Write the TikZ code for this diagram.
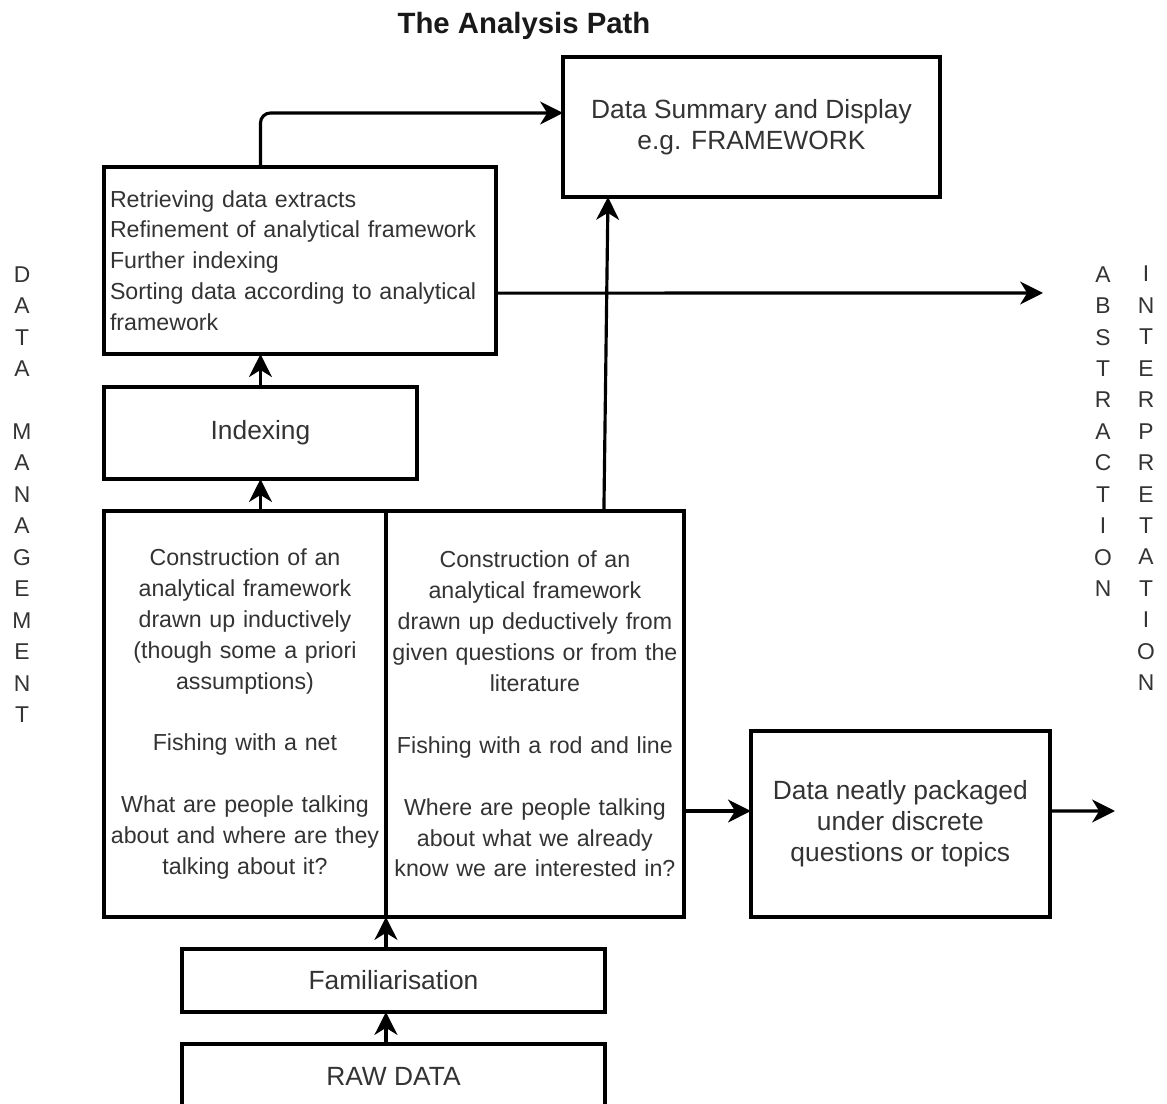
\documentclass[tikz,border=0pt]{standalone}
\usepackage{fontspec}
\setmainfont{Liberation Sans}
\usetikzlibrary{arrows.meta,positioning,calc}

\begin{document}
\begin{tikzpicture}[
  x=0.02cm,y=-0.02cm,
  >=Stealth,
  box/.style={rectangle,draw=black,line width=2.2pt,outer sep=0pt,inner sep=0pt,
    text=black!80,font=\fontsize{15}{17.6}\selectfont,align=center},
  smalltext/.style={font=\fontsize{13.2}{17.6}\selectfont},
  listbox/.style={box,smalltext,align=left,inner xsep=0.12cm,text width=7.6cm,
    minimum width=7.84cm,minimum height=3.74cm},
  colbox/.style={box,smalltext,minimum height=8.12cm},
  sidelbl/.style={text=black!80,font=\fontsize{13}{17.9}\selectfont,
    align=center,inner sep=0pt},
  titlelbl/.style={font=\fontsize{16.7}{20}\selectfont\bfseries,text=black!90},
  arrow/.style={->,line width=1.8pt,
    >={Stealth[length=13pt,width=13pt,inset=4pt]}}
]
\clip (0,0) rectangle (1167,1104);

% ── Title ────────────────────────────────────────────────────────────────────
\node[titlelbl] (title) at (524,26) {The Analysis Path};

% ── Main column, from the bottom up ─────────────────────────────────────────
\node[box,anchor=north west,minimum width=8.46cm,minimum height=1.28cm]
  (raw) at (182,1044) {RAW DATA};
\node[box,above right=0.64cm and 0cm of raw.north west,
  minimum width=8.46cm,minimum height=1.26cm]
  (famil) {Familiarisation};
% two frameworks side by side
\node[colbox,anchor=south west,minimum width=5.64cm,text width=5.5cm]
  (inductive) at (104,917)
  {Construction of an\\analytical framework\\drawn up inductively\\
   (though some a priori\\assumptions)\\[17.6pt]
   Fishing with a net\\[17.6pt]
   What are people talking\\about and where are they\\talking about it?};
\node[colbox,right=0cm of inductive,minimum width=5.96cm,text width=5.86cm]
  (deductive)
  {Construction of an\\analytical framework\\drawn up deductively from\\
   given questions or from the\\literature\\[17.6pt]
   Fishing with a rod and line\\[17.6pt]
   Where are people talking\\about what we already\\know we are interested in?};
\node[box,above right=0.64cm and 0cm of inductive.north west,
  minimum width=6.26cm,minimum height=1.84cm]
  (indexing) {Indexing};
\node[listbox,above right=0.66cm and 0cm of indexing.north west]
  (retrieve) {Retrieving data extracts\\Refinement of analytical framework\\
   Further indexing\\Sorting data according to analytical\\framework};

% ── Outputs ──────────────────────────────────────────────────────────────────
\node[box,anchor=north west,minimum width=7.54cm,minimum height=2.8cm]
  (summary) at (563,57) {Data Summary and Display\\e.g. FRAMEWORK};
\node[box,above right=0cm and 1.34cm of deductive.south east,
  minimum width=5.98cm,minimum height=3.72cm]
  (packaged) {Data neatly packaged\\under discrete\\questions or topics};

% free arrow ends
\coordinate (absEnd) at (1043,293);
\coordinate (pkgEnd) at (1115,811);

% ── Side labels ──────────────────────────────────────────────────────────────
\node[sidelbl] (datamgmt) at (22,494.5)
  {D\\A\\T\\A\\ \\M\\A\\N\\A\\G\\E\\M\\E\\N\\T};
\node[sidelbl] (abstr) at (1103,431.5)
  {A\\B\\S\\T\\R\\A\\C\\T\\I\\O\\N};
\node[sidelbl] (interp) at (1146,478.5)
  {I\\N\\T\\E\\R\\P\\R\\E\\T\\A\\T\\I\\O\\N};

% ── Arrows ───────────────────────────────────────────────────────────────────
\draw[arrow] (inductive.south east |- raw.north) -- (inductive.south east |- famil.south);
\draw[arrow] (inductive.south east |- famil.north) -- (inductive.south east);
\draw[arrow] (indexing.south |- inductive.north) -- (indexing.south);
\draw[arrow] (indexing.north) -- (indexing.north |- retrieve.south);
\draw[arrow,rounded corners=0.2cm]
  (indexing.north |- retrieve.north) |- ([yshift=0.28cm]summary.west);
\draw[arrow] ([yshift=-0.65cm]retrieve.east) -- (absEnd);
\draw[arrow] ([xshift=1.38cm]deductive.north) -- ([xshift=-2.87cm]summary.south);
\draw[arrow] ([yshift=0.26cm]packaged.west -| deductive.east)
  -- ([yshift=0.26cm]packaged.west);
\draw[arrow] ([yshift=0.26cm]packaged.east) -- (pkgEnd);
\end{tikzpicture}
\end{document}
